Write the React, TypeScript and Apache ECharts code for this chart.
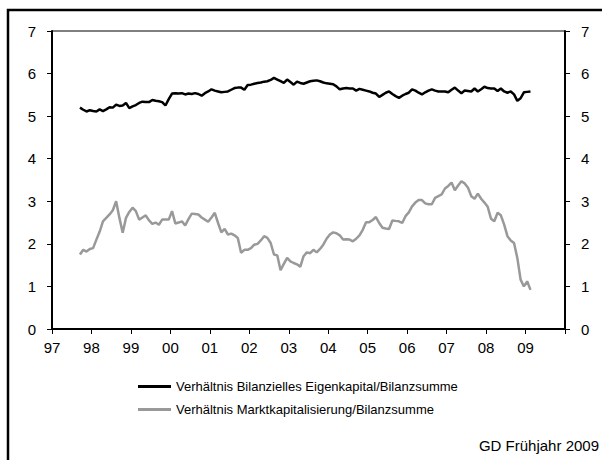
import React, { useEffect, useRef } from "react";
import * as echarts from "echarts";

// Monthly data, September 1997 – February 2009
const startYear = 1997;
const startMonth = 9; // September

const seriesNames = [
  "Verhältnis Bilanzielles Eigenkapital/Bilanzsumme",
  "Verhältnis Marktkapitalisierung/Bilanzsumme",
];

const eigenkapital = [
  // 1997 (Sep–Dec)
  5.20, 5.15, 5.11, 5.14,
  // 1998
  5.12, 5.11, 5.16, 5.12, 5.16, 5.21, 5.20, 5.27, 5.24, 5.25, 5.31, 5.19,
  // 1999
  5.23, 5.26, 5.31, 5.34, 5.33, 5.33, 5.38, 5.36, 5.35, 5.33, 5.25, 5.40,
  // 2000
  5.53, 5.54, 5.53, 5.54, 5.51, 5.53, 5.52, 5.54, 5.52, 5.48, 5.54, 5.58,
  // 2001
  5.63, 5.60, 5.58, 5.56, 5.57, 5.58, 5.62, 5.66, 5.67, 5.67, 5.62, 5.73,
  // 2002
  5.74, 5.76, 5.78, 5.79, 5.81, 5.82, 5.85, 5.90, 5.86, 5.82, 5.78, 5.86,
  // 2003
  5.80, 5.74, 5.81, 5.78, 5.76, 5.79, 5.82, 5.83, 5.84, 5.82, 5.79, 5.77,
  // 2004
  5.76, 5.75, 5.70, 5.63, 5.65, 5.66, 5.65, 5.65, 5.60, 5.64, 5.62, 5.60,
  // 2005
  5.58, 5.55, 5.53, 5.45, 5.50, 5.55, 5.58, 5.52, 5.47, 5.43, 5.48, 5.52,
  // 2006
  5.55, 5.63, 5.60, 5.55, 5.51, 5.56, 5.60, 5.63, 5.60, 5.58, 5.58, 5.58,
  // 2007
  5.56, 5.62, 5.67, 5.60, 5.54, 5.60, 5.59, 5.58, 5.65, 5.58, 5.63, 5.69,
  // 2008
  5.66, 5.65, 5.65, 5.59, 5.65, 5.58, 5.55, 5.58, 5.51, 5.36, 5.42, 5.56,
  // 2009 (Jan–Feb)
  5.57, 5.58,
];

const marktkapitalisierung = [
  // 1997 (Sep–Dec)
  1.75, 1.86, 1.82, 1.88,
  // 1998
  1.90, 2.10, 2.29, 2.53, 2.61, 2.69, 2.79, 3.00, 2.61, 2.26, 2.61, 2.75,
  // 1999
  2.85, 2.77, 2.57, 2.62, 2.67, 2.55, 2.47, 2.50, 2.45, 2.57, 2.57, 2.57,
  // 2000
  2.77, 2.48, 2.50, 2.53, 2.43, 2.58, 2.71, 2.70, 2.69, 2.62, 2.57, 2.52,
  // 2001
  2.62, 2.73, 2.49, 2.27, 2.35, 2.22, 2.24, 2.20, 2.14, 1.79, 1.86, 1.86,
  // 2002
  1.90, 1.98, 2.00, 2.08, 2.18, 2.14, 2.02, 1.75, 1.73, 1.38, 1.53, 1.67,
  // 2003
  1.59, 1.55, 1.52, 1.46, 1.71, 1.80, 1.78, 1.86, 1.80, 1.88, 1.98, 2.12,
  // 2004
  2.22, 2.27, 2.25, 2.20, 2.10, 2.11, 2.10, 2.06, 2.12, 2.20, 2.33, 2.51,
  // 2005
  2.51, 2.56, 2.63, 2.49, 2.38, 2.36, 2.35, 2.55, 2.54, 2.53, 2.49, 2.65,
  // 2006
  2.74, 2.88, 2.97, 3.03, 3.03, 2.95, 2.93, 2.93, 3.08, 3.12, 3.16, 3.30,
  // 2007
  3.36, 3.44, 3.26, 3.37, 3.47, 3.42, 3.32, 3.12, 3.06, 3.18, 3.06, 2.97,
  // 2008
  2.87, 2.59, 2.53, 2.73, 2.67, 2.45, 2.18, 2.08, 2.02, 1.67, 1.16, 1.00,
  // 2009 (Jan–Feb)
  1.12, 0.92,
];

const xMin = 1997;
const xMax = 2010;
const yMin = 0;
const yMax = 7;
const sourceNote = "GD Frühjahr 2009";

// x position of month i (middle of the month, in years)
const monthPos = (i: number) => startYear + (startMonth - 1 + i + 0.5) / 12;

const toPairs = (vals: number[]) => vals.map((v, i) => [monthPos(i), v]);

const FONT = "'Liberation Sans', Arial, sans-serif";

export default function App() {
  const ref = useRef<HTMLDivElement>(null);

  useEffect(() => {
    if (!ref.current) return;
    const chart = echarts.init(ref.current, undefined, { renderer: "svg" });

    const yAxisBase = {
      type: "value",
      min: yMin,
      max: yMax,
      interval: 1,
      splitLine: { show: false },
      axisLine: { show: true, lineStyle: { color: "#000", width: 2 } },
      axisTick: { show: true, length: 5, lineStyle: { color: "#000", width: 1 } },
      axisLabel: { color: "#000", fontSize: 15, fontFamily: FONT, margin: 16 },
    };

    chart.setOption({
      animation: false,
      backgroundColor: "#fff",
      textStyle: { fontFamily: FONT },
      grid: {
        show: true,
        left: 52,
        right: 37,
        top: 31,
        bottom: 131,
        borderColor: "#000",
        borderWidth: 1,
        backgroundColor: "transparent",
      },
      xAxis: {
        type: "value",
        min: xMin,
        max: xMax,
        interval: 1,
        splitLine: { show: false },
        axisLine: { show: true, lineStyle: { color: "#000", width: 2 } },
        axisTick: { show: true, length: 5, lineStyle: { color: "#000", width: 1 } },
        axisLabel: {
          color: "#000",
          fontSize: 15,
          fontFamily: FONT,
          margin: 11,
          showMaxLabel: true,
          formatter: (v: number) =>
            v >= xMax ? "" : String(Math.round(v)).slice(2),
        },
      },
      yAxis: [
        { ...yAxisBase, position: "left" },
        { ...yAxisBase, position: "right" },
      ],
      legend: {
        orient: "vertical",
        left: 133,
        top: 375,
        icon: "rect",
        itemWidth: 33,
        itemHeight: 3,
        itemGap: 10,
        textStyle: { color: "#000", fontSize: 13, fontFamily: FONT },
        data: [
          { name: seriesNames[0], itemStyle: { color: "#000" } },
          { name: seriesNames[1], itemStyle: { color: "#999999" } },
        ],
      },
      graphic: [
        {
          type: "rect",
          shape: { x: 8, y: 10, width: 640, height: 480 },
          style: { fill: "none", stroke: "#000", lineWidth: 2.5 },
          silent: true,
        },
        {
          type: "text",
          x: 599,
          y: 445,
          style: {
            text: sourceNote,
            fontSize: 15,
            fontFamily: FONT,
            fill: "#000",
            textAlign: "right",
            textVerticalAlign: "middle",
          },
        },
      ],
      series: [
        {
          name: seriesNames[0],
          type: "line",
          yAxisIndex: 0,
          data: toPairs(eigenkapital),
          symbol: "none",
          lineStyle: { color: "#000", width: 2.5 },
          itemStyle: { color: "#000" },
        },
        {
          name: seriesNames[1],
          type: "line",
          yAxisIndex: 0,
          data: toPairs(marktkapitalisierung),
          symbol: "none",
          lineStyle: { color: "#999999", width: 2.5 },
          itemStyle: { color: "#999999" },
        },
      ],
    });

    return () => chart.dispose();
  }, []);

  return (
    <div
      ref={ref}
      style={{ position: "absolute", left: 0, top: 0, width: 602, height: 460 }}
    />
  );
}
